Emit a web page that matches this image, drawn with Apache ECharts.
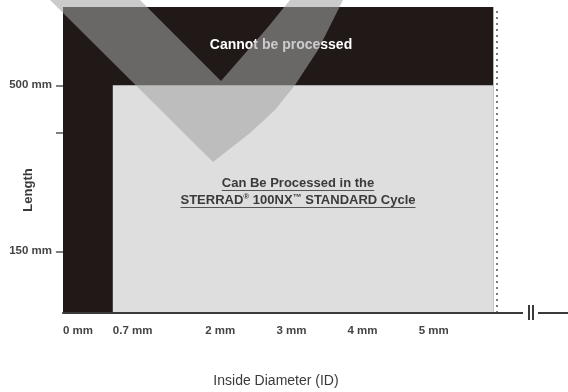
<!DOCTYPE html>
<html>
<head>
<meta charset="utf-8">
<script src="https://cdn.jsdelivr.net/npm/echarts@6/dist/echarts.min.js"></script>
<style>
  html, body { margin: 0; padding: 0; background: #fff; }
  #chart { width: 568px; height: 392px; }
</style>
</head>
<body>
<div id="chart"></div>
<script>
  // axes (mm)
  const idMin = 0, idMax = 7.1;
  const lengthMin = 20, lengthMax = 665;
  const idTicks = [0, 0.7, 2, 3, 4, 5];
  const lengthTicks = [150, 400, 500];
  const lengthLabels = [150, 500];

  // zones: [0] cannot be processed, [1] can be processed
  const zoneMinID = [0, 0.7];
  const zoneMaxID = [6.05, 6.05];
  const zoneMaxLength = [665, 500];
  const limitID = 6.1; // dotted edge before the axis break

  const zoneColors = ['#201918', '#dedede'];
  const FONT = '"Liberation Sans", Arial, sans-serif';

  const chart = echarts.init(document.getElementById('chart'));

  // measure text for the underlines
  const ctx = document.createElement('canvas').getContext('2d');
  function textW(str, size) {
    ctx.font = 'bold ' + size + 'px ' + FONT;
    return ctx.measureText(str).width;
  }
  const line1 = 'Can Be Processed in the';
  const w1 = textW(line1, 13);
  const w2 = textW('STERRAD', 13) + textW('®', 8) + textW(' 100NX', 13) + textW('™', 9) + textW(' STANDARD Cycle', 13);
  const cx = 298;

  const zoneData = zoneMinID.map((v, i) => [v, zoneMaxID[i], lengthMin, zoneMaxLength[i]]);

  function renderZone(params, api) {
    const p0 = api.coord([api.value(0), api.value(3)]);
    const p1 = api.coord([api.value(1), api.value(2)]);
    return {
      type: 'rect',
      shape: { x: p0[0], y: p0[1], width: p1[0] - p0[0], height: p1[1] - p0[1] },
      style: { fill: zoneColors[params.dataIndex] }
    };
  }

  const option = {
    animation: false,
    grid: { left: 63, right: 0, top: 7, bottom: 79, containLabel: false, outerBoundsMode: 'none' },
    xAxis: {
      type: 'value',
      min: idMin,
      max: idMax,
      z: 5,
      axisLine: { show: true, onZero: false, lineStyle: { color: '#3a3a3a', width: 2 } },
      axisTick: { show: false },
      splitLine: { show: false },
      axisLabel: {
        customValues: idTicks,
        formatter: v => v + ' mm',
        align: 'left',
        margin: 12,
        fontFamily: FONT,
        fontWeight: 'bold',
        fontSize: 11.5,
        color: '#444'
      }
    },
    yAxis: {
      type: 'value',
      min: lengthMin,
      max: lengthMax,
      axisLine: { show: false },
      axisTick: { show: true, customValues: lengthTicks, length: 7, lineStyle: { color: '#555', width: 1.5 } },
      splitLine: { show: false },
      axisLabel: {
        customValues: lengthLabels,
        formatter: v => v + ' mm',
        margin: 11,
        fontFamily: FONT,
        fontWeight: 'bold',
        fontSize: 11.5,
        color: '#444'
      }
    },
    series: [{
      type: 'custom',
      renderItem: renderZone,
      encode: { x: [0, 1], y: [2, 3] },
      data: zoneData,
      silent: true,
      markLine: {
        silent: true,
        symbol: ['none', 'none'],
        label: { show: false },
        lineStyle: { type: [2, 4], color: '#7a7a7a', width: 2 },
        data: [{ xAxis: limitID }]
      }
    }],
    graphic: [
      {
        type: 'text', x: 281, y: 45, z: 10,
        style: { text: 'Cannot be processed', fill: '#fff', font: 'bold 14px ' + FONT, align: 'center', verticalAlign: 'middle' }
      },
      {
        type: 'text', x: cx, y: 183, z: 10,
        style: { text: line1, fill: '#3a3a3a', font: 'bold 13px ' + FONT, align: 'center', verticalAlign: 'middle' }
      },
      {
        type: 'line', z: 10,
        shape: { x1: cx - w1 / 2, y1: 190.5, x2: cx + w1 / 2, y2: 190.5 },
        style: { stroke: '#555', lineWidth: 1 }
      },
      {
        type: 'text', x: cx, y: 200, z: 10,
        style: {
          text: 'STERRAD{sup|®} 100NX{tm|™} STANDARD Cycle',
          fill: '#3a3a3a', font: 'bold 13px ' + FONT, align: 'center', verticalAlign: 'middle',
          rich: {
            sup: { fontSize: 8, fontWeight: 'bold', fontFamily: FONT, fill: '#3a3a3a', padding: [0, 0, 6, 0] },
            tm: { fontSize: 9, fontWeight: 'bold', fontFamily: FONT, fill: '#3a3a3a', padding: [0, 0, 4, 0] }
          }
        }
      },
      {
        type: 'line', z: 10,
        shape: { x1: cx - w2 / 2, y1: 207.5, x2: cx + w2 / 2, y2: 207.5 },
        style: { stroke: '#555', lineWidth: 1 }
      },
      {
        type: 'text', x: 28, y: 190, rotation: Math.PI / 2, z: 10,
        style: { text: 'Length', fill: '#3a3a3a', font: 'bold 13px ' + FONT, align: 'center', verticalAlign: 'middle' }
      },
      {
        type: 'text', x: 276, y: 381, z: 10,
        style: { text: 'Inside Diameter (ID)', fill: '#3a3a3a', font: '14px ' + FONT, align: 'center', verticalAlign: 'middle' }
      },
      // axis break mark
      {
        type: 'rect', z: 20,
        shape: { x: 523, y: 308, width: 15, height: 10 },
        style: { fill: '#fff' }
      },
      {
        type: 'line', z: 21,
        shape: { x1: 529, y1: 305, x2: 529, y2: 320 },
        style: { stroke: '#3a3a3a', lineWidth: 2 }
      },
      {
        type: 'line', z: 21,
        shape: { x1: 533, y1: 305, x2: 533, y2: 320 },
        style: { stroke: '#3a3a3a', lineWidth: 2 }
      },
      // watermark check shape
      {
        type: 'polygon', z: 100, silent: true,
        shape: {
          points: [[50, 0], [213, 162], [250, 133], [275, 110], [295, 85], [318, 50], [343, 0],
                   [290, 0], [268, 27], [248, 50], [221, 81], [140, 0]]
        },
        style: { fill: '#a4a4a4', opacity: 0.57 }
      }
    ]
  };

  chart.setOption(option);
</script>
</body>
</html>
